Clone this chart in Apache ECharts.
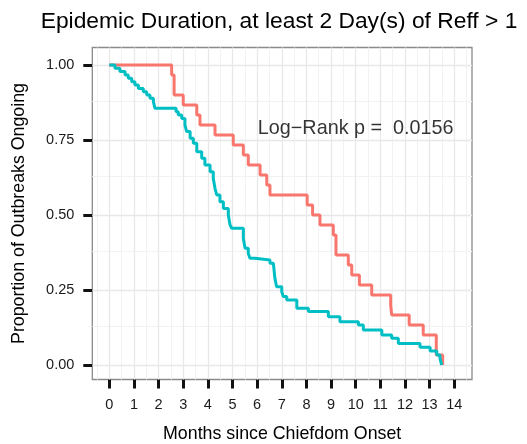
<!DOCTYPE html>
<html>
<head>
<meta charset="utf-8">
<script src="https://cdn.jsdelivr.net/npm/echarts@6/dist/echarts.min.js"></script>
<style>
html,body{margin:0;padding:0;background:#fff;}
#chart{width:527px;height:444px;}
</style>
</head>
<body>
<div id="chart"></div>
<script>
// ---- data ----
const xTicks = [0,1,2,3,4,5,6,7,8,9,10,11,12,13,14];
const yTicks = [0,0.25,0.5,0.75,1];
const xMinor = [-0.5,0.5,1.5,2.5,3.5,4.5,5.5,6.5,7.5,8.5,9.5,10.5,11.5,12.5,13.5,14.5];
const yMinor = [0.125,0.375,0.625,0.875];

const redTimes = [0,2.53,2.63,3.0,3.55,3.68,4.29,5.03,5.44,5.64,6.12,6.39,6.52,8.03,8.25,8.55,9.09,9.2,9.70,9.84,10.15,10.65,11.42,11.46,12.17,12.74,13.27,13.53];
const redSurv  = [1,0.967,0.9,0.867,0.833,0.8,0.767,0.733,0.7,0.667,0.633,0.6,0.567,0.533,0.5,0.467,0.433,0.367,0.333,0.3,0.267,0.233,0.2,0.167,0.133,0.1,0.033,0];

const cyanTimes = [0,0.23,0.43,0.64,0.77,0.91,1.04,1.18,1.38,1.52,1.65,1.79,1.85,2.71,2.8,2.94,3.07,3.14,3.28,3.41,3.55,3.75,3.88,4.09,4.22,4.29,4.36,4.49,4.63,4.83,4.90,4.97,5.44,5.51,5.64,5.71,5.91,6.52,6.66,6.72,6.79,7.0,7.06,7.2,7.61,8.08,8.89,9.36,10.11,10.31,11.06,11.46,11.73,12.61,13.02,13.29,13.42,13.49];
const cyanSurv  = [1,0.989,0.978,0.967,0.956,0.944,0.933,0.922,0.911,0.9,0.889,0.878,0.856,0.844,0.833,0.822,0.8,0.778,0.756,0.739,0.711,0.689,0.667,0.644,0.622,0.589,0.567,0.544,0.522,0.5,0.467,0.456,0.422,0.389,0.372,0.356,0.35,0.339,0.333,0.289,0.261,0.244,0.228,0.217,0.189,0.178,0.161,0.144,0.133,0.117,0.1,0.089,0.072,0.059,0.047,0.033,0.022,0];

const titleText = 'Epidemic Duration, at least 2 Day(s) of Reff > 1';
const annotText = 'Log\u2212Rank p =  0.0156';
const annotPos = [10, 0.787];
const xTitle = 'Months since Chiefdom Onset';
const yTitle = 'Proportion of Outbreaks Ongoing';

// ---- layout ----
const FONT = 'Liberation Sans, Arial, Helvetica, sans-serif';
const px0 = 109.3, pxPerUnit = 24.64;  // x pixel of 0, px per month
const py0 = 365, pyPerUnit = 300;      // y pixel of 0, px per unit
const panel = {l: 92.3, r: 472, t: 47.5, b: 379.5};
const xMinA = (panel.l - px0) / pxPerUnit, xMaxA = (panel.r - px0) / pxPerUnit;
const yMinA = (py0 - panel.b) / pyPerUnit, yMaxA = (py0 - panel.t) / pyPerUnit;

function pairs(ts, vs){ return ts.map((t,i)=>[t, vs[i]]); }

const minorStyle = {color:'#f2f2f2', width:1, type:'solid'};
const majorStyle = {color:'#e8e8e8', width:1.3, type:'solid'};
const gridLines = [];
xMinor.forEach(v=>gridLines.push({xAxis:v, lineStyle:minorStyle}));
yMinor.forEach(v=>gridLines.push({yAxis:v, lineStyle:minorStyle}));
xTicks.forEach(v=>gridLines.push({xAxis:v, lineStyle:majorStyle}));
yTicks.forEach(v=>gridLines.push({yAxis:v, lineStyle:majorStyle}));

const chart = echarts.init(document.getElementById('chart'), null, {renderer:'canvas'});
chart.setOption({
  animation: false,
  backgroundColor: '#ffffff',
  graphic: [{
    type: 'text', x: 279, y: 21.5, silent: true,
    style: {text: titleText, font: '22.8px ' + FONT, fill: '#000', align: 'center', verticalAlign: 'middle'}
  }],
  grid: [
    {left: panel.l, top: panel.t, width: panel.r - panel.l, height: panel.b - panel.t,
     containLabel: false, outerBoundsMode: 'none',
     show: true, borderColor: '#8a8a8a', borderWidth: 1.3, backgroundColor: '#fff'}
  ],
  xAxis: [
    {type: 'value', min: xMinA, max: xMaxA,
     axisLine: {show: false, onZero: false}, splitLine: {show: false},
     axisTick: {show: true, length: 9, customValues: xTicks, lineStyle: {color: '#111', width: 3}},
     axisLabel: {margin: 18, customValues: xTicks, color: '#1a1a1a', fontSize: 14.5, fontFamily: FONT},
     name: xTitle, nameLocation: 'middle', nameGap: 46,
     nameTextStyle: {fontSize: 17.8, color: '#000', fontFamily: FONT}}
  ],
  yAxis: [
    {type: 'value', min: yMinA, max: yMaxA,
     axisLine: {show: false, onZero: false}, splitLine: {show: false},
     axisTick: {show: true, length: 9, customValues: yTicks, lineStyle: {color: '#111', width: 3}},
     axisLabel: {margin: 18, customValues: yTicks, color: '#1a1a1a', fontSize: 14.5, fontFamily: FONT,
                 formatter: v => v.toFixed(2)},
     name: yTitle, nameLocation: 'middle', nameGap: 64,
     nameTextStyle: {fontSize: 17.8, color: '#000', fontFamily: FONT}}
  ],
  series: [
    {type: 'line', data: [], silent: true, z: 1,
     markLine: {silent: true, z: 1, symbol: ['none','none'], label: {show: false},
                animation: false, data: gridLines}},
    {type: 'line', name: 'red', step: 'end', z: 10,
     data: pairs(redTimes, redSurv), showSymbol: false, symbol: 'none',
     lineStyle: {color: '#F8766D', width: 3}},
    {type: 'line', name: 'cyan', step: 'end', z: 11,
     data: pairs(cyanTimes, cyanSurv), showSymbol: false, symbol: 'none',
     lineStyle: {color: '#00BFC4', width: 3}},
    {type: 'scatter', data: [annotPos], symbolSize: 0, silent: true, z: 12,
     label: {show: true, position: 'inside', formatter: annotText, color: '#000',
             fontSize: 19.8, fontFamily: FONT}}
  ]
});
</script>
</body>
</html>
